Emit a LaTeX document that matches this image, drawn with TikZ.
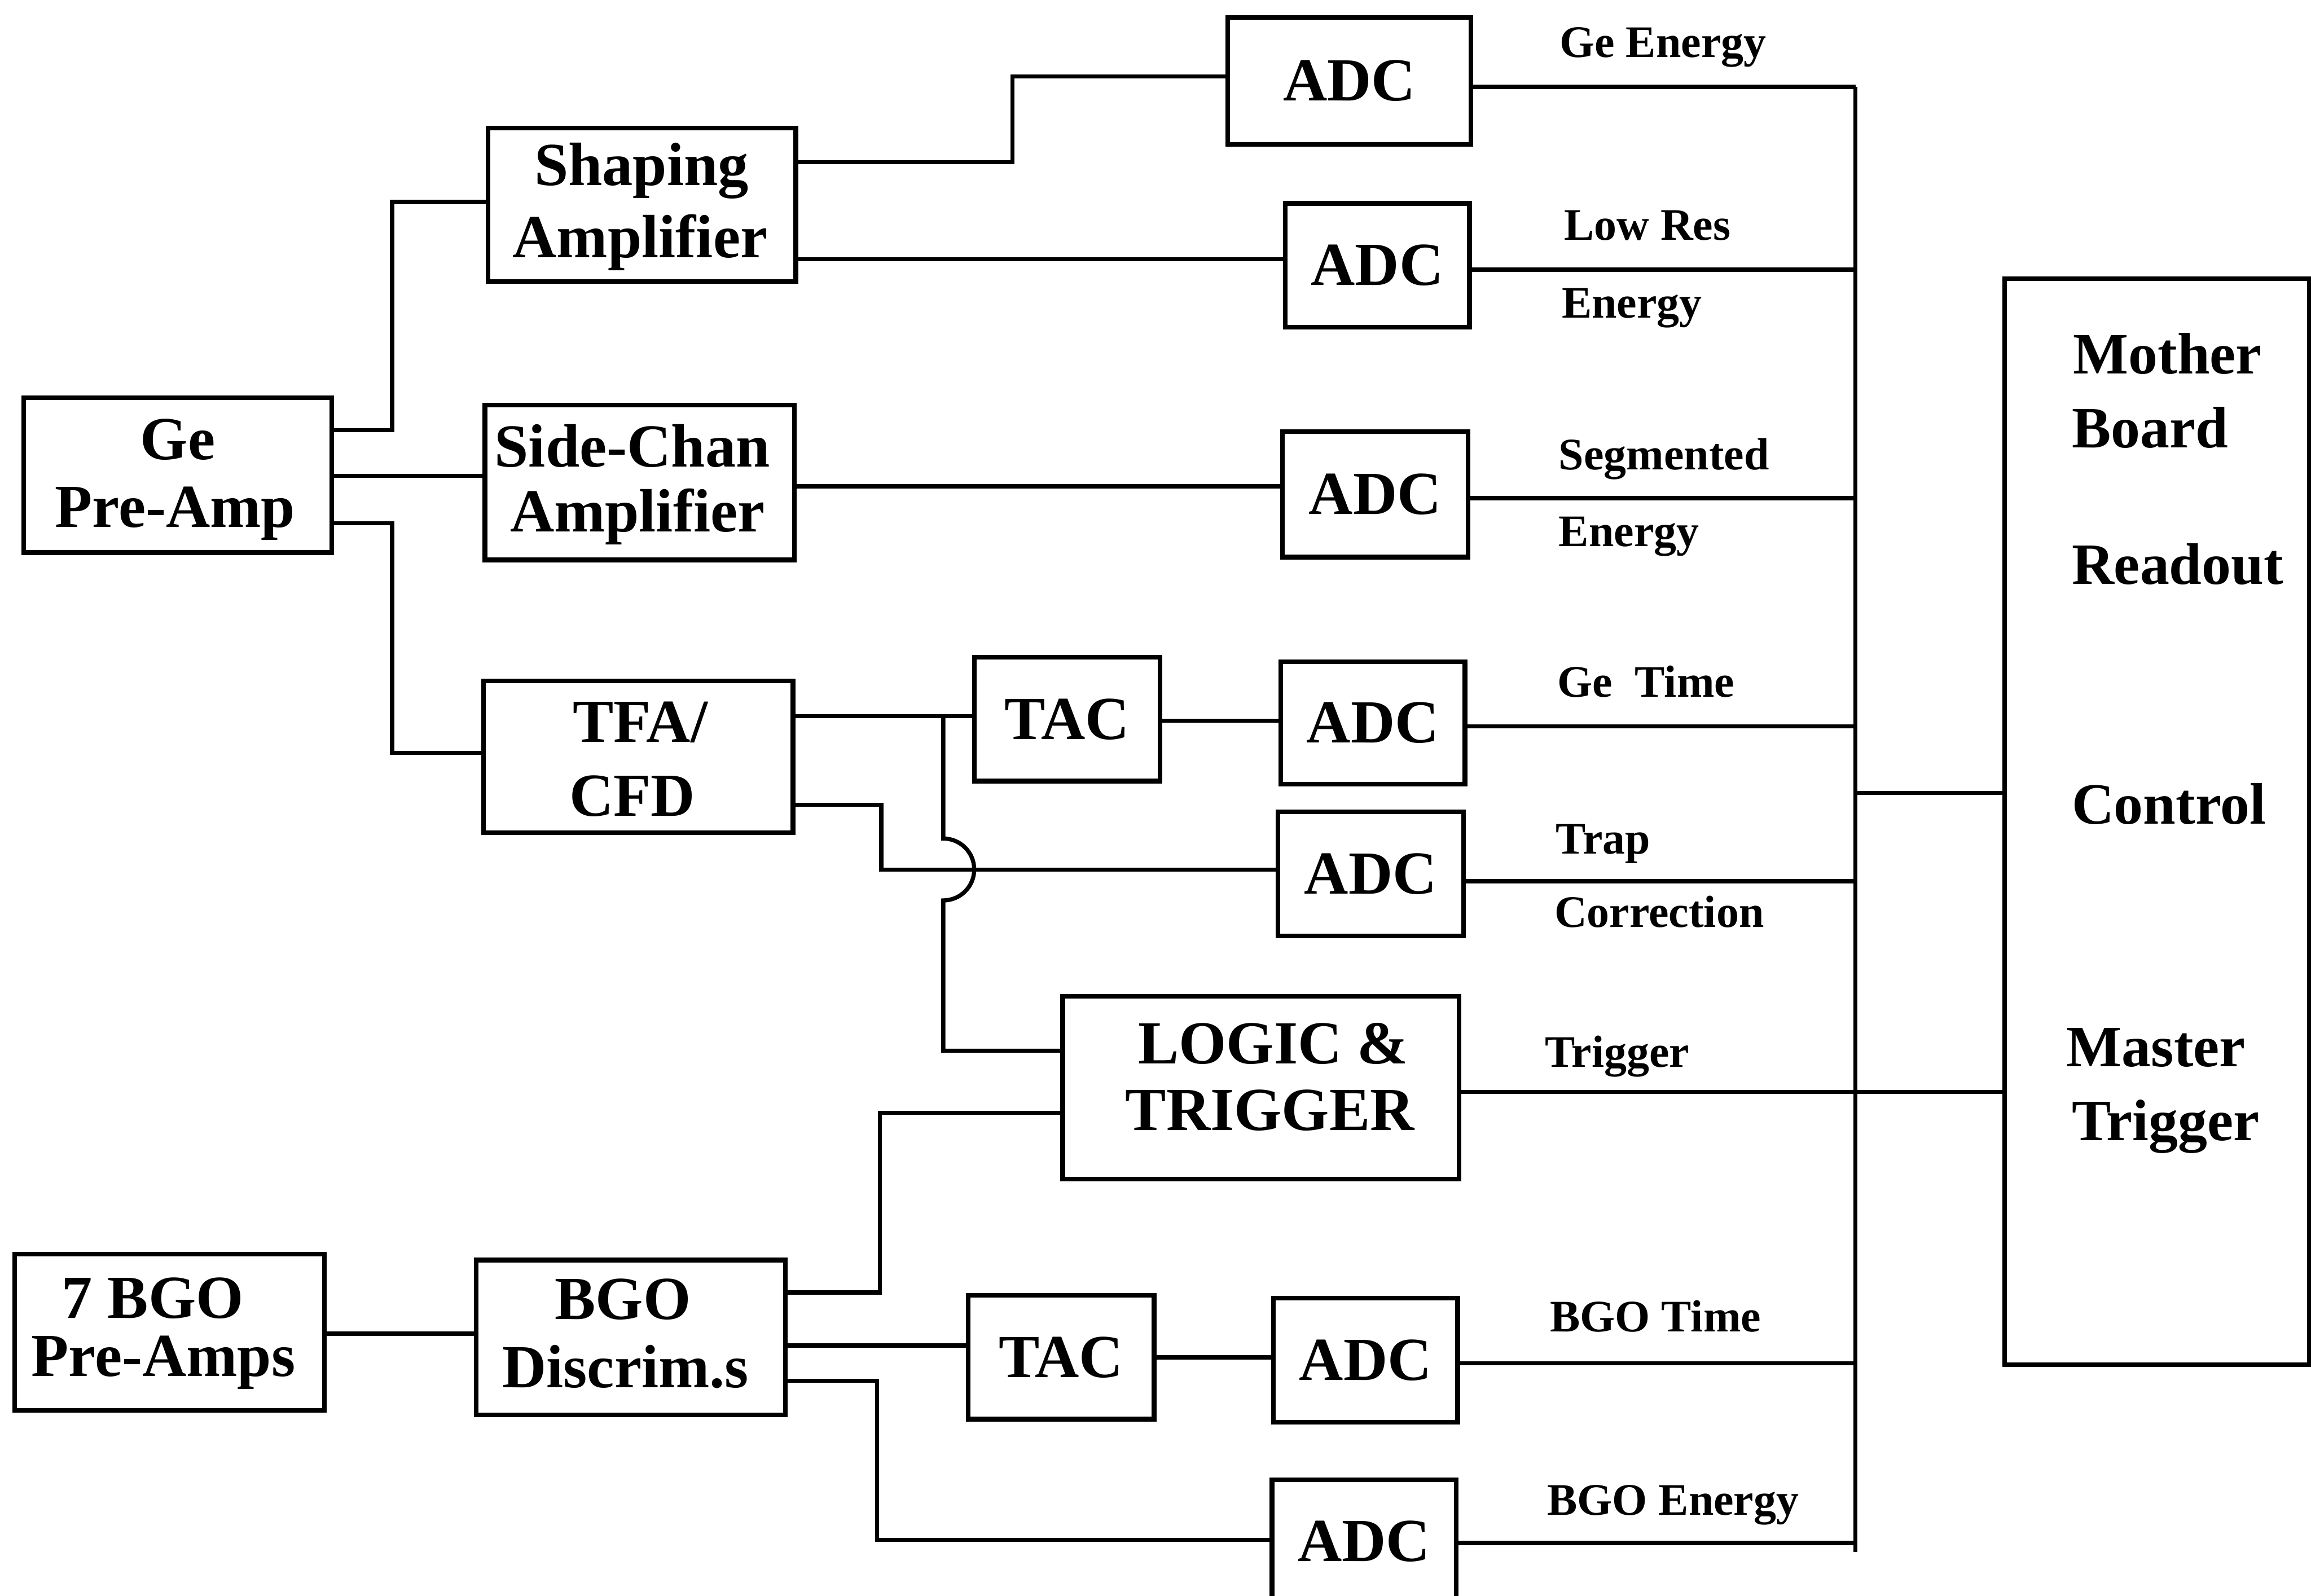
\documentclass[tikz,border=0pt]{standalone}
\usepackage{fontspec}
\setmainfont{Liberation Serif}
\newcommand\blkfnt{\fontsize{11.8}{14}\selectfont\bfseries}
\newcommand\lblfnt{\fontsize{8.7}{10}\selectfont\bfseries}
\newcommand\mbfnt{\fontsize{11.3}{13}\selectfont\bfseries}
\tikzset{
  blk/.style 2 args={draw, line width=0.9pt, inner sep=0pt, outer sep=0pt,
    minimum width=#1*0.01cm, minimum height=#2*0.01cm, font=\blkfnt},
  txt/.style={inner sep=0pt, anchor=base, font=\blkfnt},
  lbl/.style={inner sep=0pt, anchor=base west, font=\lblfnt},
  mbt/.style={inner sep=0pt, anchor=base west, font=\mbfnt},
  wire/.style={line width=0.8pt, line join=miter}
}
\begin{document}
\begin{tikzpicture}[x=0.01cm, y=-0.01cm]
\useasboundingbox (0,0) rectangle (1568,1083);
\clip (0,0) rectangle (1568,1083);
\fill[white] (0,0) rectangle (1568,1083);

% ---- boxes ----
\node[blk={209}{105}] (gepre)    at (120.5,322.5) {};
\node[blk={209}{104}] (shaping)  at (435.5,139) {};
\node[blk={210}{105}] (sidechan) at (434,327.5) {};
\node[blk={210}{103}] (tfa)      at (433,513.5) {};
\node[blk={165}{86}]  (adc1)     at (915.5,55) {ADC};
\node[blk={125}{84}]  (adc2)     at (934.5,180) {ADC};
\node[blk={126}{85}]  (adc3)     at (933,335.5) {ADC};
\node[blk={126}{84}]  (tac1)     at (724,488) {TAC};
\node[blk={125}{83}]  (adc4)     at (931.5,490.5) {ADC};
\node[blk={126}{84}]  (adc5)     at (930,593) {ADC};
\node[blk={269}{124}] (logic)    at (855.5,738) {};
\node[blk={210}{106}] (bgo7)     at (115,904) {};
\node[blk={210}{105}] (disc)     at (428,907.5) {};
\node[blk={126}{84}]  (tac2)     at (720,921) {TAC};
\node[blk={125}{84}]  (adc6)     at (926.5,923) {ADC};
\node[blk={125}{84}]  (adc7)     at (925.5,1046) {ADC};
\node[blk={207}{737}] (mb)       at (1463.5,557.5) {};

% ---- box texts ----
\node[txt] (gepreA) at (120.6,311.7) {Ge};
\node[txt] (gepreB) at (118.8,357.7) {Pre-Amp};
\node[txt] (shapA) at (435.2,125.8) {Shaping};
\node[txt] (shapB) at (434.3,174.9) {Amplifier};
\node[txt] (sideA) at (429,316.9) {Side-Chan};
\node[txt] (sideB) at (432.5,360.7) {Amplifier};
\node[txt] (tfaA) at (434.4,503.7) {TFA/};
\node[txt] (tfaB) at (428.9,553.8) {CFD};
\node[txt] (logA) at (863.9,721.8) {LOGIC \&};
\node[txt] (logB) at (861.6,767) {TRIGGER};
\node[txt] (bgoA) at (103.6,894.5) {7 BGO};
\node[txt] (bgoB) at (110.8,934) {Pre-Amps};
\node[txt] (discA) at (422.6,895.2) {BGO};
\node[txt] (discB) at (424.4,941.7) {Discrim.s};

% ---- mother board texts ----
\node[mbt] (mb1) at (1406,253.6) {Mother};
\node[mbt] (mb2) at (1405,303.8) {Board};
\node[mbt] (mb3) at (1405,396.6) {Readout};
\node[mbt] (mb4) at (1405,559) {Control};
\node[mbt] (mb5) at (1401.5,723.6) {Master};
\node[mbt] (mb6) at (1405,773.7) {Trigger};

% ---- signal labels ----
\node[lbl] (l1)  at (1057.5,38.7) {Ge Energy};
\node[lbl] (l2)  at (1060.5,163) {Low Res};
\node[lbl] (l3)  at (1059,215.8) {Energy};
\node[lbl] (l4)  at (1057,318.8) {Segmented};
\node[lbl] (l5)  at (1057,370.8) {Energy};
\node[lbl] (l6)  at (1056,473) {Ge\ \ Time};
\node[lbl] (l7)  at (1055,579.4) {Trap};
\node[lbl] (l8)  at (1054,629) {Correction};
\node[lbl] (l9)  at (1047.5,724) {Trigger};
\node[lbl] (l10) at (1051,903.5) {BGO Time};
\node[lbl] (l11) at (1049,1028) {BGO Energy};

% ---- connectors ----
\draw[wire] (gepre.east |- 0,292) -| (266,137) -- (shaping.west |- 0,137);
\draw[wire] (gepre.east |- 0,323) -- (sidechan.west |- 0,323);
\draw[wire] (gepre.east |- 0,355) -| (266,511) -- (tfa.west |- 0,511);
\draw[wire] (shaping.east |- 0,110) -| (687,52) -- (adc1.west |- 0,52);
\draw[wire] (shaping.east |- 0,176) -- (adc2.west |- 0,176);
\draw[wire] (sidechan.east |- 0,330) -- (adc3.west |- 0,330);
\coordinate (jn) at (640,486);
\draw[wire] (tfa.east |- 0,486) -- (tac1.west |- 0,486);
\draw[wire] (jn) -- (640,569)
  .. controls (651.6,569) and (661,578.4) .. (661,590)
  .. controls (661,601.6) and (651.6,611) .. (640,611)
  -- (640,713) -- (logic.west |- 0,713);
\draw[wire] (tfa.east |- 0,546) -| (598,590) -- (adc5.west |- 0,590);
\draw[wire] (tac1.east |- 0,489) -- (adc4.west |- 0,489);
\draw[wire] (disc.east |- 0,877) -| (597,755) -- (logic.west |- 0,755);
\draw[wire] (bgo7.east |- 0,905) -- (disc.west |- 0,905);
\draw[wire] (disc.east |- 0,913) -- (tac2.west |- 0,913);
\draw[wire] (tac2.east |- 0,921) -- (adc6.west |- 0,921);
\draw[wire] (disc.east |- 0,937) -| (595,1045) -- (adc7.west |- 0,1045);

% ---- output bus ----
\coordinate (bustop) at (1259,59);
\coordinate (busbot) at (1259,1053);
\draw[wire] (bustop) -- (busbot);
\draw[wire] (adc1.east |- 0,59) -- (bustop);
\draw[wire] (adc2.east |- 0,183) -- (bustop |- 0,183);
\draw[wire] (adc3.east |- 0,338) -- (bustop |- 0,338);
\draw[wire] (adc4.east |- 0,493) -- (bustop |- 0,493);
\draw[wire] (adc5.east |- 0,598) -- (bustop |- 0,598);
\draw[wire] (adc6.east |- 0,925) -- (bustop |- 0,925);
\draw[wire] (adc7.east |- 0,1047) -- (bustop |- 0,1047);
\draw[wire] (bustop |- 0,538) -- (mb.west |- 0,538);
\draw[wire] (logic.east |- 0,741) -- (mb.west |- 0,741);
\end{tikzpicture}
\end{document}
